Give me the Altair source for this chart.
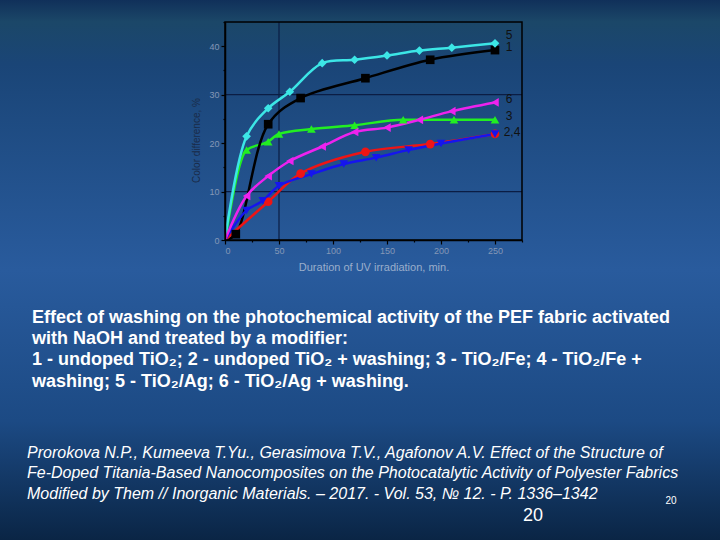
import altair as alt
import pandas as pd

# ---- data ----
x1 = [0, 10, 40, 70, 130, 190, 250]
y1 = [0, 1.2, 23.9, 29.3, 33.4, 37.2, 39.2]
x2 = [0, 40, 70, 130, 190, 250]
y2 = [0, 7.9, 13.7, 18.2, 19.8, 21.9]
x3 = [0, 20, 40, 50, 80, 120, 165, 212, 250]
y3 = [0, 18.6, 20.3, 21.9, 22.9, 23.7, 24.8, 24.8, 24.8]
x4 = [0, 20, 35, 50, 80, 110, 140, 170, 200, 250]
y4 = [0, 6.1, 8.1, 11.2, 13.6, 15.7, 17.0, 18.6, 19.9, 21.9]
x5 = [0, 20, 40, 60, 90, 120, 150, 180, 210, 250]
y5 = [0, 21.4, 27.2, 30.6, 36.5, 37.2, 38.1, 39.1, 39.7, 40.6]
x6 = [0, 20, 40, 60, 90, 120, 150, 180, 210, 250]
y6 = [0, 9.1, 13.2, 16.3, 19.3, 22.3, 23.2, 24.8, 26.6, 28.4]

series_names = ["1", "2", "3", "4", "5", "6"]
series_colors = ["#000000", "#ee1515", "#22ee22", "#1515ee", "#3ce6e6", "#ee22ee"]
series_shapes = ["square", "circle", "triangle-up", "triangle-down", "diamond", "triangle-left"]

end_labels = ["5", "1", "6", "3", "2,4"]
end_label_x = [260, 260, 260, 260, 258]
end_label_y = [42.4, 39.8, 29.1, 25.5, 22.2]

x_ticks = [0, 25, 50, 75, 100, 125, 150, 175, 200, 225, 250, 275]
y_ticks = [0, 5, 10, 15, 20, 25, 30, 35, 40, 45]
grid_x = [50]
grid_y = [10, 30]

caption_lines = [
    "Effect of washing on the photochemical activity of the PEF fabric activated",
    "with NaOH and treated by a modifier:",
    "1 - undoped TiO\u2082; 2 - undoped TiO\u2082 + washing; 3 - TiO\u2082/Fe; 4 - TiO\u2082/Fe +",
    "washing; 5 - TiO\u2082/Ag; 6 - TiO\u2082/Ag + washing.",
]
citation_lines = [
    "Prorokova N.P., Kumeeva T.Yu., Gerasimova T.V., Agafonov A.V. Effect of the Structure of",
    "Fe-Doped Titania-Based Nanocomposites on the Photocatalytic Activity of Polyester Fabrics",
    "Modified by Them // Inorganic Materials. \u2013 2017. - Vol. 53, \u2116 12. - P. 1336\u20131342",
]

# ---- layout ----
W, H = 297, 218
LEFT, TOP = 225, 22
FONT = "Liberation Sans, Arial, sans-serif"

rows = []
for name, xs, ys in zip(series_names, [x1, x2, x3, x4, x5, x6], [y1, y2, y3, y4, y5, y6]):
    for i, (xv, yv) in enumerate(zip(xs, ys)):
        rows.append({"series": name, "t": xv, "v": yv, "order": i, "marker": i > 0})
df = pd.DataFrame(rows)
pts = df[df["marker"]]

xscale = alt.Scale(domain=[0, 275], nice=False, zero=False)
yscale = alt.Scale(domain=[0, 45], nice=False, zero=False)

x_axis = alt.Axis(
    values=x_ticks,
    labelExpr="datum.value % 50 === 0 ? datum.label : ''",
    tickSize={"condition": {"test": "datum.value % 50 === 0", "value": 4}, "value": 2},
    grid=False, zindex=2,
    domainColor="#000000", domainWidth=1.5,
    tickColor="#000000", tickWidth=1.2,
    labelColor="#8497b6", labelFontSize=9, labelFont=FONT, labelPadding=2,
    title="Duration of UV irradiation, min.",
    titleColor="#9aaecb", titleFontSize=11, titleFontWeight="normal", titleFont=FONT,
    titleBaseline="middle", titleY=27,
)
y_axis = alt.Axis(
    values=y_ticks,
    labelExpr="datum.value % 10 === 0 ? datum.label : ''",
    tickSize={"condition": {"test": "datum.value % 10 === 0", "value": 4}, "value": 2},
    grid=False, zindex=2,
    domainColor="#000000", domainWidth=1.5,
    tickColor="#000000", tickWidth=1.2,
    labelColor="#8497b6", labelFontSize=9, labelFont=FONT, labelPadding=2,
    title="Color difference, %",
    titleColor="#1a2b48", titleFontSize=10, titleFontWeight="normal", titleFont=FONT,
    titleX=-29, titleY=118, titleBaseline="middle", titleAlign="center",
)

# background gradient (whole slide)
bg = alt.Chart(pd.DataFrame({"k": [0]})).mark_rect(
    color=alt.LinearGradient(
        gradient="linear",
        stops=[
            alt.GradientStop(offset=0.0, color="#10305a"),
            alt.GradientStop(offset=0.04, color="#1b4768"),
            alt.GradientStop(offset=0.12, color="#1a4577"),
            alt.GradientStop(offset=0.5, color="#295b9d"),
            alt.GradientStop(offset=0.78, color="#1c4a84"),
            alt.GradientStop(offset=1.0, color="#0a2545"),
        ],
        x1=0, x2=0, y1=0, y2=1,
    )
).encode(
    x=alt.value(-LEFT), x2=alt.value(720 - LEFT),
    y=alt.value(-TOP), y2=alt.value(540 - TOP),
)

gx = alt.Chart(pd.DataFrame({"g": grid_x})).mark_rule(color="#0b1d44", strokeWidth=1.2).encode(
    x=alt.X("g:Q", scale=xscale, axis=x_axis)
)
gy = alt.Chart(pd.DataFrame({"g": grid_y})).mark_rule(color="#0b1d44", strokeWidth=1.2).encode(
    y=alt.Y("g:Q", scale=yscale, axis=y_axis)
)

color_enc = alt.Color("series:N", scale=alt.Scale(domain=series_names, range=series_colors), legend=None)

lines_green = alt.Chart(df).transform_filter("datum.series === '3'").mark_line(
    interpolate="monotone", strokeWidth=2.5
).encode(
    x=alt.X("t:Q", scale=xscale, axis=x_axis),
    y=alt.Y("v:Q", scale=yscale, axis=y_axis),
    color=color_enc,
    order="order:Q",
)

lines = alt.Chart(df).transform_filter("datum.series !== '3'").mark_line(
    interpolate="catmull-rom", strokeWidth=2.5
).encode(
    x=alt.X("t:Q", scale=xscale, axis=x_axis),
    y=alt.Y("v:Q", scale=yscale, axis=y_axis),
    color=color_enc,
    order="order:Q",
)

points = alt.Chart(pts).mark_point(filled=True, size=75, opacity=1).encode(
    x=alt.X("t:Q", scale=xscale, axis=x_axis),
    y=alt.Y("v:Q", scale=yscale, axis=y_axis),
    color=color_enc,
    shape=alt.Shape("series:N", scale=alt.Scale(domain=series_names, range=series_shapes), legend=None),
)

frame = alt.Chart(pd.DataFrame({"k": [0]})).mark_rect(
    filled=False, stroke="#000000", strokeWidth=1.5
).encode(
    x=alt.datum(0, scale=xscale, axis=x_axis), x2=alt.datum(275),
    y=alt.datum(0, scale=yscale, axis=y_axis), y2=alt.datum(45),
)

lab_df = pd.DataFrame({"lab": end_labels, "t": end_label_x, "v": end_label_y})
end_text = alt.Chart(lab_df).mark_text(
    align="left", baseline="middle", fontSize=12, font=FONT, color="#111111"
).encode(x=alt.X("t:Q", scale=xscale, axis=x_axis), y=alt.Y("v:Q", scale=yscale, axis=y_axis), text="lab:N")

cap_df = pd.DataFrame({"txt": caption_lines, "py": [296, 317, 338, 360]})
caption = alt.Chart(cap_df).mark_text(
    align="left", baseline="middle", fontSize=18, fontWeight="bold", font=FONT, color="#ffffff"
).encode(x=alt.value(32 - LEFT), y=alt.value(0), yOffset=alt.YOffset("py:Q", scale=None), text="txt:N")

cit_df = pd.DataFrame({"txt": citation_lines, "py": [431, 451, 472]})
citation = alt.Chart(cit_df).mark_text(
    align="left", baseline="middle", fontSize=16, fontStyle="italic", font=FONT, color="#ffffff"
).encode(x=alt.value(27 - LEFT), y=alt.value(0), yOffset=alt.YOffset("py:Q", scale=None), text="txt:N")

page_big = alt.Chart(pd.DataFrame({"txt": ["20"]})).mark_text(
    align="center", baseline="middle", fontSize=18, font=FONT, color="#ffffff"
).encode(x=alt.value(533 - LEFT), y=alt.value(516 - TOP), text="txt:N")

page_small = alt.Chart(pd.DataFrame({"txt": ["20"]})).mark_text(
    align="center", baseline="middle", fontSize=10, font=FONT, color="#ffffff"
).encode(x=alt.value(671 - LEFT), y=alt.value(501 - TOP), text="txt:N")

chart = alt.layer(
    bg, gx, gy, lines_green, lines, points, frame, end_text, caption, citation, page_big, page_small
).properties(
    width=W, height=H,
    autosize="none",
    padding={"left": LEFT, "top": TOP, "right": 720 - LEFT - W, "bottom": 540 - TOP - H},
    background="#1a4577",
).configure_view(strokeWidth=0)

chart.save("out.html", embed_options={"renderer": "svg", "actions": False})
